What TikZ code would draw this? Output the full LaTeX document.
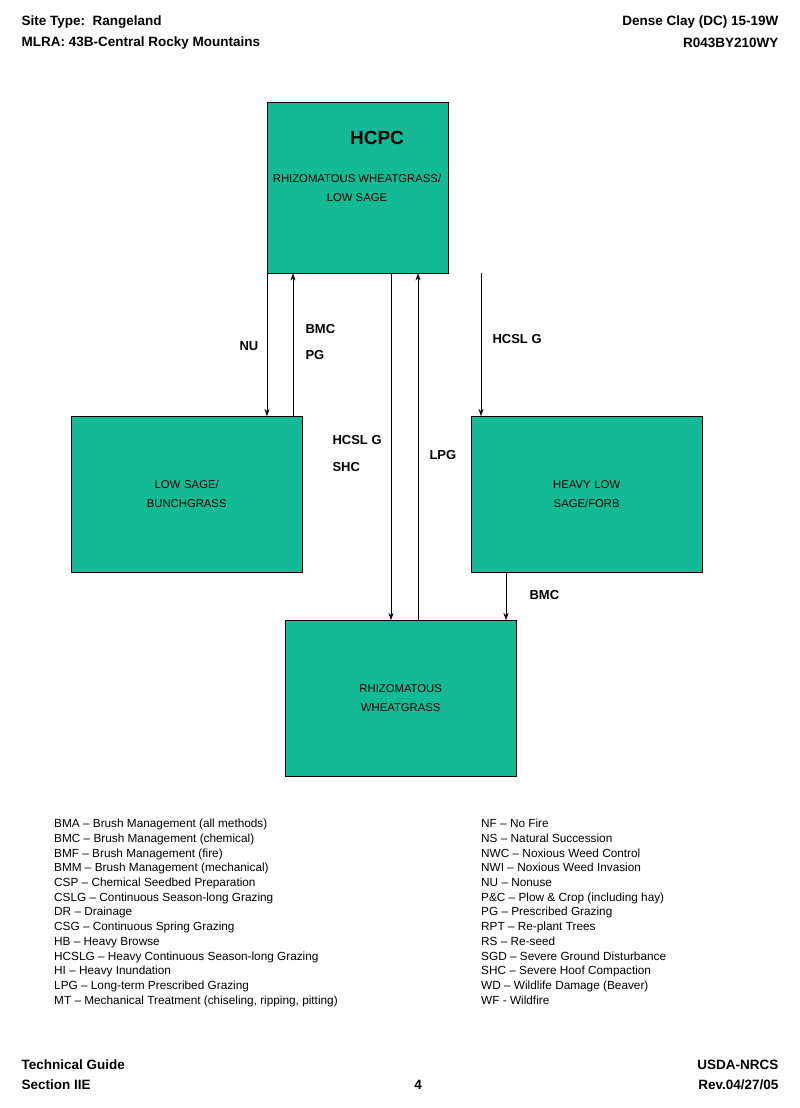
\documentclass[tikz,border=0pt]{standalone}
\usepackage{fontspec}
\setmainfont{Liberation Sans}
\usetikzlibrary{arrows.meta}
\begin{document}
\begin{tikzpicture}[x=1pt,y=-1pt,
  lbl/.style={font=\bfseries\fontsize{13.5}{15}\selectfont,anchor=west},
  alb/.style={font=\bfseries\fontsize{13}{15}\selectfont,anchor=west},
  bt/.style={draw,fill=boxc,minimum width=231,minimum height=156,align=center,font=\fontsize{11.3}{19}\selectfont,anchor=north west,text width=200},
  leg/.style={font=\fontsize{11.8}{14.7}\selectfont,anchor=north west,align=left,inner sep=0pt},
  arr/.style={-{Stealth[length=7pt,width=5pt]},thin}]
\definecolor{boxc}{RGB}{20,185,150}
\useasboundingbox (0,0) rectangle (800,1108);
\node[lbl] (h1) at (18,22) {Site Type:\ \ Rangeland};
\node[lbl] (h2) at (18,43) {MLRA: 43B-Central Rocky Mountains};
\node[lbl,anchor=east] (h3) at (782,22) {Dense Clay (DC) 15-19W};
\node[lbl,anchor=east] (h4) at (782,43) {R043BY210WY};
\node[draw,fill=boxc,minimum width=181,minimum height=171,anchor=north west,inner sep=0pt] (hcpc) at (267,102) {};
\node[font=\bfseries\fontsize{19}{22}\selectfont] (hl) at (377,138) {HCPC};
\node[font=\fontsize{11.3}{19}\selectfont,align=center] (ht) at (357,188) {RHIZOMATOUS WHEATGRASS/\\LOW SAGE};
\node[bt] (ls) at (71,416) {LOW SAGE/\\BUNCHGRASS};
\node[bt] (hs) at (471,416) {HEAVY LOW\\SAGE/FORB};
\node[bt] (rw) at (285,620) {RHIZOMATOUS\\WHEATGRASS};
\draw[arr] (hcpc.south -| 267,0) -- (ls.north -| 267,0);
\draw[arr] (ls.north -| 293,0) -- (hcpc.south -| 293,0);
\draw[arr] (hcpc.south -| 481,0) -- (hs.north -| 481,0);
\draw[arr] (hcpc.south -| 391,0) -- (rw.north -| 391,0);
\draw[arr] (rw.north -| 418,0) -- (hcpc.south -| 418,0);
\draw[arr] (hs.south -| 506,0) -- (rw.north -| 506,0);
\node[alb] (nu) at (236,346) {NU};
\node[alb] (bmc1) at (302,329) {BMC};
\node[alb] (pg) at (302,355) {PG};
\node[alb] (hc1) at (489,339) {HCSL G};
\node[alb] (hc2) at (329,440) {HCSL G};
\node[alb] (shc) at (329,467) {SHC};
\node[alb] (lpg) at (426,455) {LPG};
\node[alb] (bmc2) at (526,595) {BMC};
\node[leg] (legl) at (54,819) {BMA -- Brush Management (all methods)\\BMC -- Brush Management (chemical)\\BMF -- Brush Management (fire)\\BMM -- Brush Management (mechanical)\\CSP -- Chemical Seedbed Preparation\\CSLG -- Continuous Season-long Grazing\\DR -- Drainage\\CSG -- Continuous Spring Grazing\\HB -- Heavy Browse\\HCSLG -- Heavy Continuous Season-long Grazing\\HI -- Heavy Inundation\\LPG -- Long-term Prescribed Grazing\\MT -- Mechanical Treatment (chiseling, ripping, pitting)};
\node[leg] (legr) at (481,819) {NF -- No Fire\\NS -- Natural Succession\\NWC -- Noxious Weed Control\\NWI -- Noxious Weed Invasion\\NU -- Nonuse\\P\&C -- Plow \& Crop (including hay)\\PG -- Prescribed Grazing\\RPT -- Re-plant Trees\\RS -- Re-seed\\SGD -- Severe Ground Disturbance\\SHC -- Severe Hoof Compaction\\WD -- Wildlife Damage (Beaver)\\WF - Wildfire};
\node[lbl] (f1) at (18,1065) {Technical Guide};
\node[lbl] (f2) at (18,1085) {Section IIE};
\node[lbl,anchor=center] (f3) at (418,1085) {4};
\node[lbl,anchor=east] (f4) at (782,1065) {USDA-NRCS};
\node[lbl,anchor=east] (f5) at (782,1085) {Rev.04/27/05};
\end{tikzpicture}
\end{document}
